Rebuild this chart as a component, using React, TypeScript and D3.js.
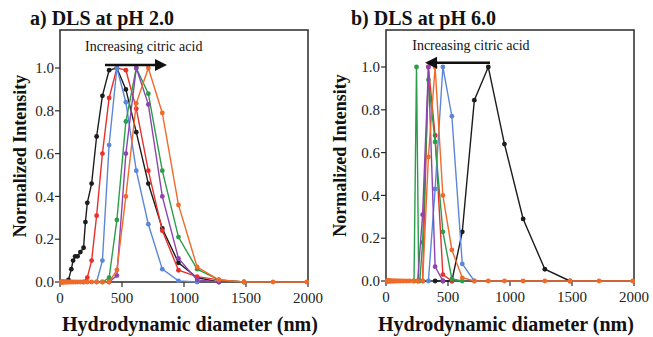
import { useEffect, useRef } from "react";
import * as d3 from "d3";

type Pt = [number, number];

interface Series {
  name: string;
  color: string;
  points: Pt[];
}

const FONT = "Liberation Serif";

const COLORS = {
  black: "#1c1c1c",
  red: "#e8302c",
  blue: "#5d86d8",
  green: "#2a9d4a",
  purple: "#8e44b0",
  orange: "#f06a2a",
};

const xTicks = [0, 500, 1000, 1500, 2000];
const yTicks = [0, 0.2, 0.4, 0.6, 0.8, 1.0];

// empty size bins (orange trace sits on the baseline here)
const lowBinsA = [10.1, 11.7, 13.5, 15.7, 18.2, 21.0, 24.4, 28.2, 32.7, 37.8, 43.8, 50.8, 58.8, 68.1, 78.8, 91.3, 105.7, 122.4, 141.8, 164.2, 190.1, 220.2, 255.0, 295.3, 342.0, 396.1];
const lowBinsB = [10.1, 11.7, 13.5, 15.7, 18.2, 21.0, 24.4, 28.2, 32.7, 37.8, 43.8, 50.8, 58.8, 68.1, 78.8, 91.3, 105.7, 122.4, 141.8, 164.2, 190.1, 220.2, 255.0, 295.3];

// pH 2.0
const blackA: Pt[] = [[68.1, 0.01], [91.3, 0.06], [105.7, 0.1], [122.4, 0.12], [141.8, 0.12], [164.2, 0.14], [190.1, 0.16], [205, 0.28], [220.2, 0.37], [255.0, 0.46], [295.3, 0.68], [342.0, 0.87], [396.1, 0.99], [458.7, 1.0], [531.2, 0.9], [615.1, 0.7], [712.4, 0.46], [825.0, 0.25], [955.4, 0.09], [1106, 0.02], [1281, 0]];
const redA: Pt[] = [[190.1, 0], [220.2, 0.02], [255.0, 0.1], [295.3, 0.31], [342.0, 0.6], [396.1, 0.86], [458.7, 1.0], [531.2, 0.99], [615.1, 0.81], [712.4, 0.52], [825.0, 0.24], [955.4, 0.055], [1106, 0.025], [1281, 0.01], [1484, 0]];
const blueA: Pt[] = [[295.3, 0], [342.0, 0.1], [396.1, 0.64], [458.7, 1.0], [531.2, 0.84], [615.1, 0.52], [712.4, 0.27], [825.0, 0.06], [955.4, 0.005], [1106, 0]];
const greenA: Pt[] = [[342.0, 0], [396.1, 0.02], [458.7, 0.29], [531.2, 0.75], [615.1, 1.0], [712.4, 0.88], [825.0, 0.52], [955.4, 0.21], [1106, 0.06], [1281, 0.01], [1484, 0]];
const purpleA: Pt[] = [[396.1, 0], [458.7, 0.03], [531.2, 0.6], [615.1, 1.0], [712.4, 0.83], [825.0, 0.4], [955.4, 0.11], [1106, 0.01], [1281, 0]];
const orangeA: Pt[] = [...lowBinsA.map((d) => [d, 0] as Pt), [458.7, 0.056], [531.2, 0.4], [615.1, 0.835], [712.4, 1.0], [825.0, 0.79], [955.4, 0.36], [1106, 0.07], [1281, 0.01], [1484, 0], [1718, 0], [1990, 0]];

// pH 6.0
const blackB: Pt[] = [[396.1, 0], [458.7, 0], [531.2, 0], [615.1, 0.23], [712.4, 0.845], [825.0, 1.0], [955.4, 0.64], [1106, 0.29], [1281, 0.055], [1484, 0]];
const redB: Pt[] = [[295.3, 0], [342.0, 1.0], [396.1, 0.68], [458.7, 0.03], [531.2, 0]];
const blueB: Pt[] = [[342.0, 0], [396.1, 0.43], [458.7, 1.0], [531.2, 0.77], [615.1, 0.08], [712.4, 0]];
const green1B: Pt[] = [[226, 0], [246, 1.0], [264, 0]];
const green2B: Pt[] = [[273, 0], [295.3, 0.18], [342.0, 0.94], [396.1, 0.65], [458.7, 0.23], [531.2, 0.01], [615.1, 0]];
const purpleB: Pt[] = [[255.0, 0], [295.3, 0.31], [342.0, 1.0], [396.1, 0.067], [458.7, 0]];
const orangeB: Pt[] = [...lowBinsB.map((d) => [d, 0] as Pt), [342.0, 0.58], [396.1, 1.0], [458.7, 0.4], [531.2, 0.145], [615.1, 0.015], [712.4, 0], [825.0, 0], [955.4, 0], [1106, 0], [1281, 0], [1484, 0], [1718, 0], [1990, 0]];

const seriesA: Series[] = [
  { name: "black", color: COLORS.black, points: blackA },
  { name: "red", color: COLORS.red, points: redA },
  { name: "blue", color: COLORS.blue, points: blueA },
  { name: "green", color: COLORS.green, points: greenA },
  { name: "purple", color: COLORS.purple, points: purpleA },
  { name: "orange", color: COLORS.orange, points: orangeA },
];

const seriesB: Series[] = [
  { name: "black", color: COLORS.black, points: blackB },
  { name: "red", color: COLORS.red, points: redB },
  { name: "blue", color: COLORS.blue, points: blueB },
  { name: "green", color: COLORS.green, points: green1B },
  { name: "green2", color: COLORS.green, points: green2B },
  { name: "purple", color: COLORS.purple, points: purpleB },
  { name: "orange", color: COLORS.orange, points: orangeB },
];

interface PanelCfg {
  title: string;
  titleX: number;
  left: number;
  right: number;
  zeroY: number;
  oneY: number;
  top: number;
  yLabelX: number;
  xLabelX: number;
  arrow: [number, number];
  arrowV: number;
  noteD: number;
  series: Series[];
}

const panels: PanelCfg[] = [
  { title: "a) DLS at pH 2.0", titleX: 30, left: 60, right: 308, zeroY: 282, oneY: 68, top: 30, yLabelX: 20, xLabelX: 190, arrow: [363, 863], arrowV: 1.014, noteD: 675, series: seriesA },
  { title: "b) DLS at pH 6.0", titleX: 351, left: 386, right: 634, zeroY: 281, oneY: 67, top: 30, yLabelX: 340, xLabelX: 506, arrow: [839, 315], arrowV: 1.02, noteD: 685, series: seriesB },
];

function drawPanel(svg: d3.Selection<SVGSVGElement, unknown, null, undefined>, p: PanelCfg) {
  const x = d3.scaleLinear().domain([0, 2000]).range([p.left, p.right]);
  const y = d3.scaleLinear().domain([0, 1]).range([p.zeroY, p.oneY]);
  const g = svg.append("g").style("font-family", FONT);

  // frame
  g.append("rect")
    .attr("x", p.left)
    .attr("y", p.top)
    .attr("width", p.right - p.left)
    .attr("height", p.zeroY - p.top)
    .attr("fill", "none")
    .attr("stroke", "#2a2a2a")
    .attr("stroke-width", 1.5);

  // x ticks
  xTicks.forEach((t) => {
    g.append("line")
      .attr("x1", x(t)).attr("x2", x(t))
      .attr("y1", p.zeroY).attr("y2", p.zeroY + 5)
      .attr("stroke", "#2a2a2a").attr("stroke-width", 1.2);
    g.append("text")
      .attr("x", x(t)).attr("y", p.zeroY + 21)
      .attr("text-anchor", "middle")
      .attr("font-size", 15).attr("fill", "#222")
      .text(t);
  });

  // y ticks
  yTicks.forEach((t) => {
    g.append("line")
      .attr("x1", p.left - 5).attr("x2", p.left)
      .attr("y1", y(t)).attr("y2", y(t))
      .attr("stroke", "#2a2a2a").attr("stroke-width", 1.2);
    g.append("text")
      .attr("x", p.left - 6).attr("y", y(t))
      .attr("dy", "0.35em")
      .attr("text-anchor", "end")
      .attr("font-size", 15).attr("fill", "#222")
      .text(d3.format(".1f")(t));
  });

  // series
  const line = d3.line<Pt>().x((d) => x(d[0])).y((d) => y(d[1]));
  p.series.forEach((s) => {
    g.append("path")
      .attr("d", line(s.points))
      .attr("fill", "none")
      .attr("stroke", s.color)
      .attr("stroke-width", 1.4);
    g.append("g")
      .selectAll("circle")
      .data(s.points)
      .join("circle")
      .attr("cx", (d) => x(d[0]))
      .attr("cy", (d) => y(d[1]))
      .attr("r", 2.4)
      .attr("fill", s.color);
  });

  // annotation arrow
  const ay = y(p.arrowV);
  const [a0, a1] = p.arrow.map((d) => x(d));
  const dir = a1 > a0 ? 1 : -1;
  g.append("line")
    .attr("x1", a0).attr("x2", a1 - dir * 8)
    .attr("y1", ay).attr("y2", ay)
    .attr("stroke", "#111").attr("stroke-width", 2.6);
  g.append("path")
    .attr("d", `M${a1},${ay} L${a1 - dir * 12},${ay - 6} L${a1 - dir * 12},${ay + 6} Z`)
    .attr("fill", "#111");
  g.append("text")
    .attr("x", x(p.noteD)).attr("y", y(1.08))
    .attr("text-anchor", "middle")
    .attr("font-size", 14).attr("fill", "#111")
    .text("Increasing citric acid");

  // labels
  g.append("text")
    .attr("x", p.titleX).attr("y", 25)
    .attr("font-size", 20).attr("font-weight", "bold").attr("fill", "#111")
    .text(p.title);
  g.append("text")
    .attr("transform", `translate(${p.yLabelX},${(p.zeroY + p.top) / 2}) rotate(-90)`)
    .attr("dy", "0.35em")
    .attr("text-anchor", "middle")
    .attr("font-size", 18).attr("font-weight", "bold").attr("fill", "#111")
    .text("Normalized Intensity");
  g.append("text")
    .attr("x", p.xLabelX).attr("y", 331)
    .attr("text-anchor", "middle")
    .attr("font-size", 20).attr("font-weight", "bold").attr("fill", "#111")
    .text("Hydrodynamic diameter (nm)");
}

export default function App() {
  const svgRef = useRef<SVGSVGElement>(null);

  useEffect(() => {
    if (!svgRef.current) return;
    const svg = d3.select(svgRef.current);
    svg.selectAll("*").remove();
    panels.forEach((p) => drawPanel(svg, p));
  }, []);

  return (
    <svg
      ref={svgRef}
      width={653}
      height={337}
      style={{ position: "absolute", left: 0, top: 0, background: "#fff" }}
    />
  );
}
